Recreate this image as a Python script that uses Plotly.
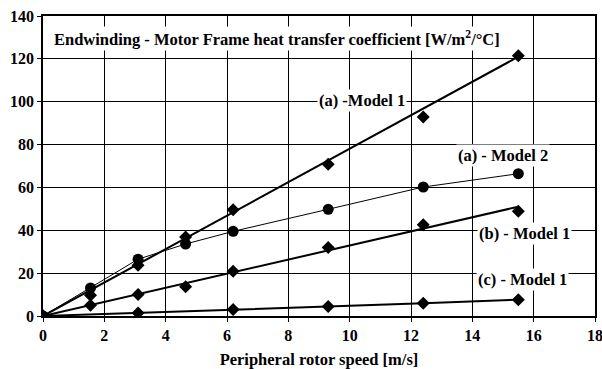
import plotly.graph_objects as go

speed = [0, 1.55, 3.1, 4.65, 6.2, 9.3, 12.4, 15.5]
a_model1 = [0, 9.7, 23.7, 36.9, 49.6, 70.8, 92.9, 121.5]
a_model2 = [0, 13.1, 26.5, 33.6, 39.5, 49.8, 60.2, 66.4]
b_model1 = [0, 5.0, 10.0, 13.7, 20.9, 32.0, 42.6, 48.9]
c_speed = [0, 3.1, 6.2, 9.3, 12.4, 15.5]
c_model1 = [0, 1.4, 3.0, 4.4, 5.9, 7.6]
trend_x = [0, 15.5]
trend_a1 = [0, 121.0]
trend_b1 = [0, 51.0]
x_ticks = list(range(0, 19, 2))
y_ticks = list(range(0, 141, 20))

FONT = "Liberation Serif"
def f(size):
    return dict(family=FONT, size=size, color="black", weight="bold")

fig = go.Figure()
fig.add_trace(go.Scatter(x=trend_x, y=trend_a1, mode="lines", line=dict(color="black", width=2)))
fig.add_trace(go.Scatter(x=trend_x, y=trend_b1, mode="lines", line=dict(color="black", width=2)))
fig.add_trace(go.Scatter(x=speed, y=a_model2, mode="lines", line=dict(color="black", width=1)))
fig.add_trace(go.Scatter(x=c_speed, y=c_model1, mode="lines", line=dict(color="black", width=2)))
fig.add_trace(go.Scatter(x=speed, y=a_model1, mode="markers", marker=dict(symbol="diamond", size=10, color="black")))
fig.add_trace(go.Scatter(x=speed, y=a_model2, mode="markers", marker=dict(symbol="circle", size=11, color="black")))
fig.add_trace(go.Scatter(x=speed, y=b_model1, mode="markers", marker=dict(symbol="diamond", size=10, color="black")))
fig.add_trace(go.Scatter(x=c_speed, y=c_model1, mode="markers", marker=dict(symbol="diamond", size=10, color="black")))

def ann(text, x, y, size=16.5, **kw):
    fig.add_annotation(text=text, x=x, y=y, xref="x", yref="y", showarrow=False,
                       bgcolor="white", font=f(size), **kw)

ann("(a) -Model 1", 10.4, 100.6)
ann("(a) - Model 2", 15.0, 75)
ann("(b) - Model 1", 15.7, 38.7)
ann("(c) - Model 1", 15.65, 17)
ann("Endwinding - Motor Frame heat transfer coefficient [W/m<sup>2</sup>/°C]", 0.28, 129.5,
    size=16.5, xanchor="left")

axis_common = dict(showline=True, linecolor="black", linewidth=1.5, mirror=True,
                   showgrid=True, gridcolor="black", gridwidth=1, zeroline=False,
                   ticks="outside", ticklen=4, tickcolor="black", tickfont=f(16),
                   automargin=False, ticklabeloverflow="allow")
fig.update_xaxes(range=[0, 18], tickvals=x_ticks,
                 title=dict(text="Peripheral rotor speed [m/s]", font=f(16.5), standoff=11),
                 **axis_common)
fig.update_yaxes(range=[0, 140], tickvals=y_ticks, **axis_common)
fig.update_layout(width=602, height=369, showlegend=False, plot_bgcolor="white", paper_bgcolor="white",
                  font=dict(family=FONT), margin=dict(l=43, r=7, t=16, b=53))
fig.write_html("out.html")
